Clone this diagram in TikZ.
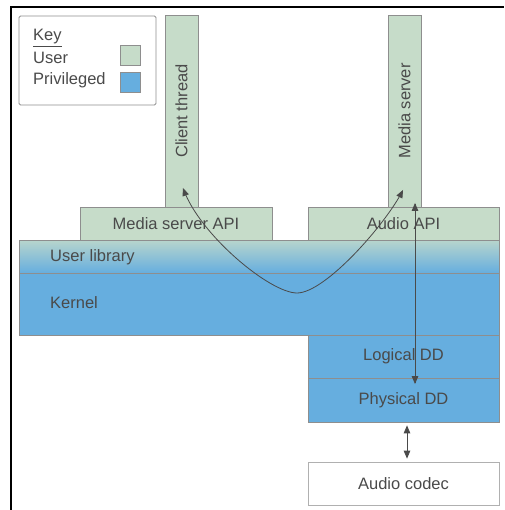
\documentclass[tikz,border=0pt]{standalone}
\usepackage{fontspec}
\setmainfont{Liberation Sans}
\usepackage{xcolor}
\usetikzlibrary{arrows}
\definecolor{usergreen}{HTML}{C6DCC9}
\definecolor{privblue}{HTML}{66AEDF}
\definecolor{edgegrey}{HTML}{8E8E8E}
\definecolor{textgrey}{HTML}{4A4A4A}
\tikzset{
	user box/.style={rectangle,draw=edgegrey,fill=usergreen,inner sep=0pt,line width=0.8pt},
	priv box/.style={rectangle,draw=edgegrey,fill=privblue,inner sep=0pt,line width=0.8pt},
	plain box/.style={rectangle,draw=edgegrey!70,fill=white,inner sep=0pt,line width=0.8pt},
	lbl/.style={text=textgrey,font=\fontsize{16.5}{19}\selectfont},
	flow/.style={<->,>=triangle 45,draw=textgrey,line width=0.8pt}
}

\begin{document}
\begin{tikzpicture}[x=1pt,y=-1pt]
	\useasboundingbox (0,0) rectangle (504,510);
	\draw[line width=1.6pt] (11,510) -- (11,7) -- (504,7);
	% key
	\node [plain box,draw=edgegrey,rounded corners=1.5pt,minimum width=137pt,minimum height=89pt] (key) at (87.5,60.5) {};
	\node [lbl,anchor=west,inner sep=0pt] (keytitle) at (33,38) {\underline{Key}};
	\node [lbl,anchor=west,inner sep=0pt] (keyuser) at (33,58) {User};
	\node [lbl,anchor=west,inner sep=0pt] (keypriv) at (33,80) {Privileged};
	\node [user box,minimum width=20pt,minimum height=20pt] (userkey) at (130,55) {};
	\node [priv box,minimum width=20pt,minimum height=20pt] (privkey) at (130,82) {};
	% threads
	\node [user box,lbl,rotate=90,minimum width=192pt,minimum height=33pt] (client) at (181.5,111) {Client thread};
	\node [user box,lbl,rotate=90,minimum width=192pt,minimum height=33pt] (server) at (404.5,111) {Media server};
	\node [user box,lbl,minimum width=192pt,minimum height=33pt] (msapi) at (176,223.5) {Media server API};
	\node [user box,lbl,minimum width=191pt,minimum height=33pt] (audioapi) at (403.5,223.5) {Audio API};
	% layers
	\node [rectangle,draw=edgegrey,line width=0.8pt,top color=usergreen!85!privblue,bottom color=privblue,minimum width=480pt,minimum height=33pt] (userlib) at (259,256.5) {};
	\node [lbl,anchor=west,inner sep=0pt] at (50,257) {User library};
	\node [priv box,minimum width=480pt,minimum height=62pt] (kernel) at (259,304) {};
	\node [lbl,anchor=west,inner sep=0pt] at (50,303) {Kernel};
	\node [priv box,lbl,minimum width=191pt,minimum height=43pt] (logical) at (403.5,356.5) {Logical DD};
	\node [priv box,lbl,minimum width=191pt,minimum height=44pt] (physical) at (403.5,400) {Physical DD};
	\node [plain box,lbl,minimum width=191pt,minimum height=43pt] (codec) at (403.5,483.5) {Audio codec};
	% connections
	\coordinate (ctip) at (183,188);
	\coordinate (mtip) at (403,190);
	\coordinate (vtop) at (415,203);
	\coordinate (vbot) at (415,384);
	\draw [flow] (ctip) .. controls (200,235) and (270,293) .. (297,293) .. controls (325,293) and (385,225) .. (mtip);
	\draw [flow] (vtop) -- (vbot);
	\draw [flow,shorten <=3pt,shorten >=3pt] ([xshift=3.5pt]physical.south) -- ([xshift=3.5pt]codec.north);
\end{tikzpicture}
\end{document}
